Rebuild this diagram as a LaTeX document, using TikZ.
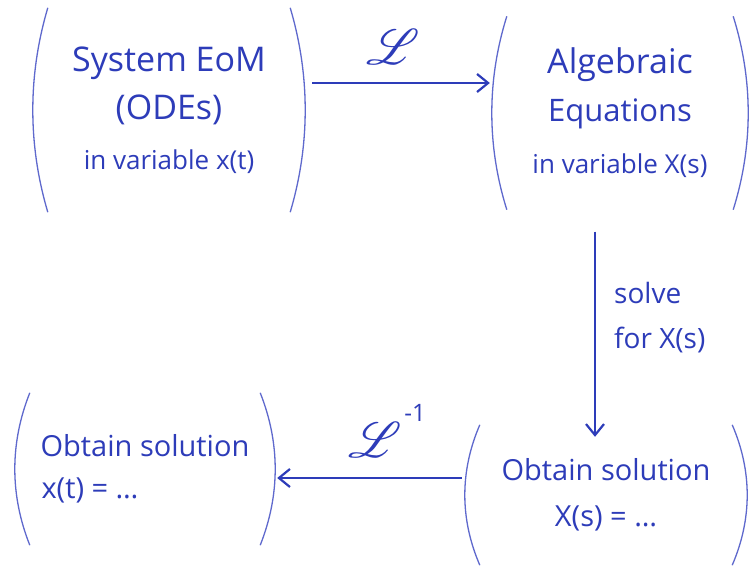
\documentclass[tikz,border=0pt]{standalone}
\usepackage{fontspec}
\setmainfont{Open Sans}
\usepackage{mathrsfs}
\usetikzlibrary{calc,arrows.meta}
\definecolor{ink}{RGB}{45,60,185}
\definecolor{pencil}{RGB}{95,105,205}
\newcommand\myparens[1]{%
  \draw[paren] ($(#1.north west)+(10pt,0pt)$)
     .. controls ($(#1.north west)!0.33!(#1.south west)+(-10pt,0pt)$)
     and ($(#1.north west)!0.67!(#1.south west)+(-10pt,0pt)$)
     .. ($(#1.south west)+(10pt,0pt)$);
  \draw[paren] ($(#1.north east)+(-10pt,0pt)$)
     .. controls ($(#1.north east)!0.33!(#1.south east)+(10pt,0pt)$)
     and ($(#1.north east)!0.67!(#1.south east)+(10pt,0pt)$)
     .. ($(#1.south east)+(-10pt,0pt)$);
}
\begin{document}
\begin{tikzpicture}[x=1pt,y=-1pt,
  box/.style={inner sep=0pt, align=center, text=ink},
  paren/.style={draw=pencil, line width=1.3pt},
  flow/.style={draw=ink, line width=2.2pt, -{Straight Barb[length=11pt,width=18pt]}},
  lbl/.style={text=ink, inner sep=0pt}]
\useasboundingbox (0,0) rectangle (751,578);
\fill[white] (0,0) rectangle (751,578);

\node[box, minimum width=262pt, minimum height=204pt,
      font=\fontsize{34}{48}\selectfont] (b1) at (169,110)
  {System EoM\\(ODEs)\\[2pt]{\fontsize{26}{30}\selectfont in variable x(t)}};
\node[box, minimum width=246pt, minimum height=193pt,
      font=\fontsize{34}{48}\selectfont] (b2) at (620,113)
  {Algebraic\\{\fontsize{31}{40}\selectfont Equations}\\[4pt]{\fontsize{26}{30}\selectfont in variable X(s)}};
\node[box, minimum width=272pt, minimum height=140pt,
      font=\fontsize{29}{46}\selectfont] (b3) at (606,495)
  {Obtain solution\\X(s) = \dots};
\node[box, minimum width=250pt, minimum height=152pt,
      font=\fontsize{29}{42}\selectfont] (b4) at (145,469)
  {Obtain solution\\x(t) = \dots\hspace*{110pt}};

\myparens{b1}
\myparens{b2}
\myparens{b3}
\myparens{b4}

\draw[flow] ([xshift=12pt,yshift=27pt]b1.east) -- ([xshift=-7pt,yshift=30pt]b2.west);
\draw[flow] ([xshift=-25pt,yshift=-22pt]b2.south) -- ([xshift=-11pt,yshift=-12pt]b3.north);
\draw[flow] ([xshift=-8pt,yshift=17pt]b3.west) -- ([xshift=7pt,yshift=-9pt]b4.east);

\node[lbl] (L1) at (393,47) {\scalebox{5}{$\mathscr{L}$}};
\node[lbl] (L2) at (375,440) {\scalebox{5}{$\mathscr{L}$}};
\node[lbl, font=\fontsize{24}{24}\selectfont] (L2s) at (415,413) {-1};
\node[lbl, anchor=west, align=left, font=\fontsize{28}{45}\selectfont] (slv) at (614,318) {solve\\for X(s)};
\end{tikzpicture}
\end{document}
